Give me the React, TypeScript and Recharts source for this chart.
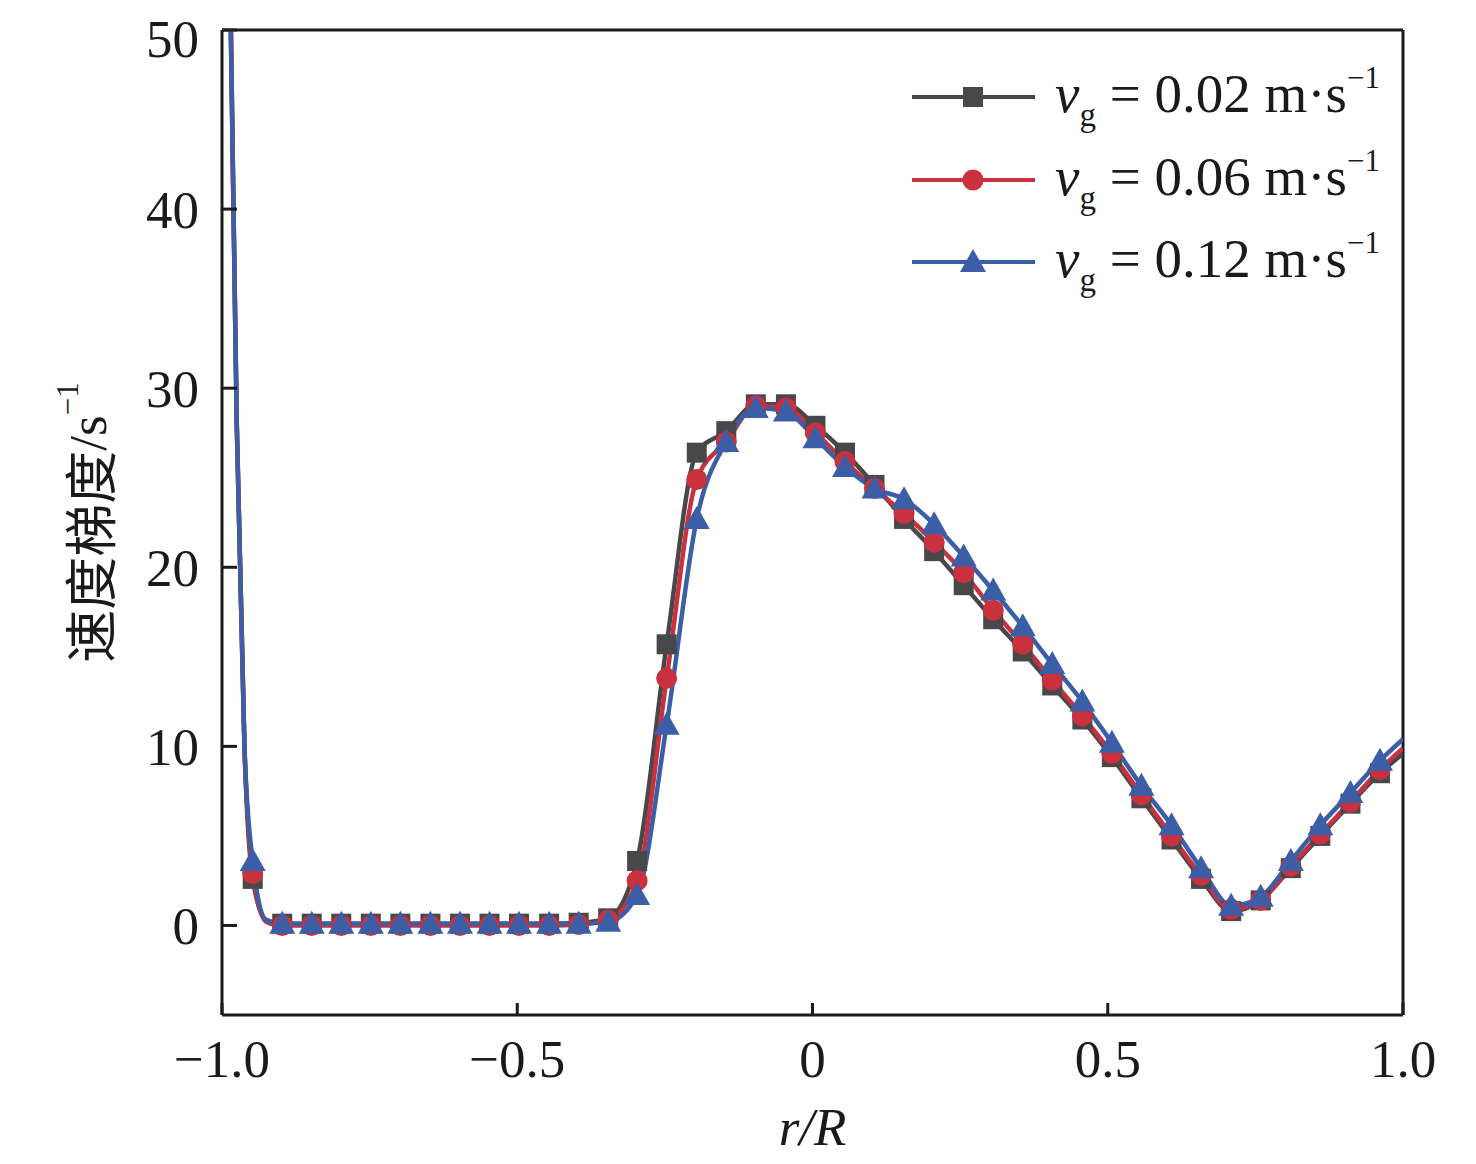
import React from "react"
import { LineChart, Line, XAxis, YAxis, Legend, ReferenceLine } from "recharts"

// r/R sample positions (markers sit on every point flagged in MARK)
const R = [
  -0.99, -0.985, -0.975, -0.962, -0.948, -0.925, -0.898, -0.848, -0.798, -0.748, -0.698, -0.647,
  -0.597, -0.547, -0.497, -0.446, -0.396, -0.346, -0.297, -0.247, -0.196, -0.146, -0.096, -0.045,
  0.005, 0.055, 0.105, 0.155, 0.206, 0.256, 0.306, 0.356, 0.406, 0.457, 0.507, 0.557, 0.608, 0.658,
  0.709, 0.759, 0.81, 0.86, 0.911, 0.961, 1.0,
]
const MARK = [
  0, 0, 0, 0, 1, 0, 1, 1, 1, 1, 1, 1, 1, 1, 1, 1, 1, 1, 1, 1, 1, 1, 1, 1, 1, 1, 1, 1, 1, 1, 1, 1, 1,
  1, 1, 1, 1, 1, 1, 1, 1, 1, 1, 1, 0,
]
const VG002 = [
  60, 50, 28, 10, 2.6, 0.3, 0.1, 0.1, 0.1, 0.1, 0.1, 0.1, 0.1, 0.1, 0.1, 0.1, 0.15, 0.4, 3.6, 15.7,
  26.4, 27.6, 29.1, 29.1, 27.9, 26.4, 24.6, 22.7, 20.9, 19.0, 17.1, 15.3, 13.4, 11.5, 9.4, 7.1, 4.8,
  2.6, 0.8, 1.4, 3.2, 5.0, 6.8, 8.5, 9.6,
]
const VG006 = [
  60, 50, 28, 10, 2.9, 0.2, 0, 0, 0, 0, 0, 0, 0, 0, 0, 0, 0.05, 0.3, 2.5, 13.8, 24.9, 27.0, 29.0,
  28.9, 27.5, 25.9, 24.4, 23.0, 21.4, 19.7, 17.6, 15.7, 13.7, 11.7, 9.6, 7.3, 5.0, 2.8, 0.9, 1.4,
  3.3, 5.1, 6.9, 8.7, 9.9,
]
const VG012 = [
  60, 50, 28, 10, 3.6, 0.3, 0.1, 0.1, 0.1, 0.1, 0.1, 0.1, 0.1, 0.1, 0.1, 0.1, 0.1, 0.2, 1.7, 11.2,
  22.7, 27.0, 28.9, 28.7, 27.2, 25.6, 24.4, 23.8, 22.4, 20.6, 18.7, 16.7, 14.6, 12.5, 10.2, 7.8, 5.6,
  3.2, 1.1, 1.6, 3.6, 5.6, 7.4, 9.2, 10.4,
]

const X_TICKS = [-1, -0.5, 0, 0.5, 1]
const X_TICK_LABELS = ["−1.0", "−0.5", "0", "0.5", "1.0"]
const Y_TICKS = [0, 10, 20, 30, 40, 50]

const SERIES = [
  { key: "a", speed: "0.02", color: "#48484b", shape: "square" },
  { key: "b", speed: "0.06", color: "#c9313f", shape: "circle" },
  { key: "c", speed: "0.12", color: "#3b5ea7", shape: "triangle" },
]

const data = R.map((r, i) => ({ r, m: MARK[i], a: VG002[i], b: VG006[i], c: VG012[i] }))

const SERIF = "'Liberation Serif', 'Times New Roman', serif"
const AXIS = "#1b1b1b"

function marker(shape: string, color: string, cx: number, cy: number, key?: string) {
  if (shape === "square") return <rect key={key} x={cx - 10} y={cy - 10} width={20} height={20} fill={color} />
  if (shape === "circle") return <circle key={key} cx={cx} cy={cy} r={10.5} fill={color} />
  return (
    <polygon
      key={key}
      points={`${cx},${cy - 13} ${cx - 13},${cy + 10} ${cx + 13},${cy + 10}`}
      fill={color}
    />
  )
}

function makeDot(shape: string, color: string) {
  return (props: any) => {
    const { cx, cy, payload, index } = props
    if (!payload || !payload.m || cx == null || cy == null) return <g key={`n-${index}`} />
    return marker(shape, color, cx, cy, `d-${index}`)
  }
}

function LegendBox() {
  const rows = [39, 122, 204]
  return (
    <svg width={500} height={260} style={{ overflow: "visible" }}>
      {SERIES.map((s, i) => {
        const y = rows[i]
        return (
          <g key={s.key}>
            <line x1={4} x2={127} y1={y} y2={y} stroke={s.color} strokeWidth={4} />
            {marker(s.shape, s.color, 65, y)}
            <text x={147} y={y + 15} fontFamily={SERIF} fontSize={55} fill="#1a1a1a">
              <tspan fontStyle="italic">v</tspan>
              <tspan fontSize={33} dy={14}>g</tspan>
              <tspan dy={-14}>{` = ${s.speed} m·s`}</tspan>
              <tspan fontSize={31} dy={-24}>−1</tspan>
            </text>
          </g>
        )
      })}
    </svg>
  )
}

function YLabel(props: any) {
  const vb = props.viewBox || {}
  const cx = vb.x + 80
  const cy = vb.y + vb.height / 2
  return (
    <text
      x={cx}
      y={cy}
      transform={`rotate(-90 ${cx} ${cy})`}
      textAnchor="middle"
      dominantBaseline="central"
      fontSize={53}
      fill="#1a1a1a"
      fontFamily={`'Liberation Serif', 'Noto Sans CJK SC', serif`}
    >
      <tspan fontFamily="'Noto Sans CJK SC', sans-serif">速度梯度</tspan>
      <tspan>/s</tspan>
      <tspan fontSize={31} dy={-21}>−1</tspan>
    </text>
  )
}

function XLabel(props: any) {
  const vb = props.viewBox || {}
  return (
    <text
      x={vb.x + vb.width / 2}
      y={vb.y + 130}
      textAnchor="middle"
      fontSize={53}
      fontStyle="italic"
      fill="#1a1a1a"
      fontFamily={SERIF}
    >
      r/R
    </text>
  )
}

export default function App() {
  const tickStyle = { fontFamily: SERIF, fontSize: 53, fill: "#1a1a1a" }
  return (
    <div style={{ width: 1460, height: 1150, background: "#fff" }}>
      <LineChart width={1460} height={1150} data={data} margin={{ top: 22, right: 65, left: 0, bottom: 0 }}>
        <XAxis
          dataKey="r"
          type="number"
          domain={[-1, 1]}
          ticks={X_TICKS}
          tickFormatter={(v: number) => X_TICK_LABELS[X_TICKS.indexOf(v)]}
          height={143}
          tickSize={-12}
          tickMargin={36}
          tick={tickStyle}
          axisLine={{ stroke: AXIS, strokeWidth: 3 }}
          tickLine={{ stroke: AXIS, strokeWidth: 3 }}
          allowDataOverflow
          label={<XLabel />}
        />
        <YAxis
          type="number"
          domain={[-5, 50]}
          ticks={Y_TICKS}
          width={214}
          tickSize={-15}
          tickMargin={38}
          tick={tickStyle}
          axisLine={{ stroke: AXIS, strokeWidth: 3 }}
          tickLine={{ stroke: AXIS, strokeWidth: 3 }}
          allowDataOverflow
          label={<YLabel />}
        />
        <ReferenceLine y={50} stroke={AXIS} strokeWidth={3} />
        <ReferenceLine x={1} stroke={AXIS} strokeWidth={3} />
        <Legend
          layout="vertical"
          align="center"
          verticalAlign="middle"
          wrapperStyle={{ left: 900, top: 50, width: 500, height: 260 }}
          content={() => <LegendBox />}
        />
        {SERIES.map((s) => (
          <Line
            key={s.key}
            dataKey={s.key}
            type="monotone"
            stroke={s.color}
            strokeWidth={4.5}
            dot={makeDot(s.shape, s.color)}
            activeDot={false}
            isAnimationActive={false}
          />
        ))}
      </LineChart>
    </div>
  )
}
